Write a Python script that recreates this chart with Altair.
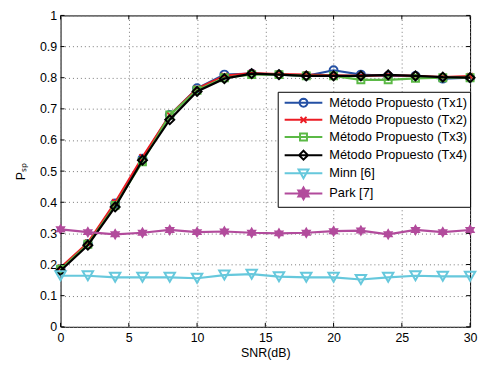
import math
import altair as alt
import pandas as pd

# ---------------- data ----------------
snr = [0, 2, 4, 6, 8, 10, 12, 14, 16, 18, 20, 22, 24, 26, 28, 30]
tx1 = [0.185, 0.266, 0.396, 0.540, 0.680, 0.766, 0.810, 0.813, 0.810, 0.806, 0.824, 0.810, 0.806, 0.806, 0.797, 0.800]
tx2 = [0.190, 0.270, 0.400, 0.545, 0.680, 0.765, 0.806, 0.815, 0.812, 0.810, 0.808, 0.806, 0.808, 0.806, 0.802, 0.805]
tx3 = [0.185, 0.265, 0.390, 0.530, 0.680, 0.760, 0.800, 0.810, 0.810, 0.806, 0.806, 0.793, 0.793, 0.798, 0.800, 0.800]
tx4 = [0.180, 0.262, 0.385, 0.535, 0.665, 0.756, 0.797, 0.813, 0.810, 0.806, 0.806, 0.806, 0.809, 0.806, 0.802, 0.800]
minn = [0.164, 0.164, 0.159, 0.159, 0.159, 0.156, 0.166, 0.169, 0.161, 0.159, 0.159, 0.152, 0.159, 0.164, 0.162, 0.162]
park = [0.313, 0.304, 0.297, 0.302, 0.311, 0.304, 0.306, 0.302, 0.300, 0.302, 0.307, 0.309, 0.297, 0.311, 0.304, 0.311]

series_names = [
    "Método Propuesto (Tx1)",
    "Método Propuesto (Tx2)",
    "Método Propuesto (Tx3)",
    "Método Propuesto (Tx4)",
    "Minn [6]",
    "Park [7]",
]
series_values = [tx1, tx2, tx3, tx4, minn, park]
colors = ["#2450a4", "#ec1c24", "#5bb946", "#000000", "#66c8dc", "#b24b9c"]
legend_fills = ["transparent", "transparent", "transparent", "transparent", "transparent", "#b24b9c"]

x_ticks = [0, 5, 10, 15, 20, 25, 30]
y_ticks = [0, 0.1, 0.2, 0.3, 0.4, 0.5, 0.6, 0.7, 0.8, 0.9, 1.0]

# ---------------- styling ----------------
W, H = 413, 314
FONT = "Liberation Sans"
FS = 12.5

rows = []
for name, vals in zip(series_names, series_values):
    for s, v in zip(snr, vals):
        rows.append({"snr": s, "value": v, "series": name})
df = pd.DataFrame(rows)

HEX = "M0,-1L0.866,0.5L-0.866,0.5ZM0,1L-0.866,-0.5L0.866,-0.5Z"
XMARK = "M-1,-1L1,1M-1,1L1,-1"
plot_markers = [
    ("circle", 64, False),
    (XMARK, 36, False),
    ("square", 49, False),
    ("diamond", 81, False),
    ("triangle-down", 110, False),
    (HEX, 144, True),
]


def f(v):
    return f"{v:.3f}"


def poly(pts):
    return "M" + "L".join(f"{f(x)},{f(y)}" for x, y in pts) + "Z"


U = 7.0  # legend symbol unit in px (sqrt(196)/2)
L = 19.0 / U
line_part = f"M{f(-L)},0L{f(L)},0"
rc = 4.0 / U
circ = poly([(rc * math.cos(2 * math.pi * k / 16), rc * math.sin(2 * math.pi * k / 16)) for k in range(16)])
rx = 3.0 / U
xm = f"M{f(-rx)},{f(-rx)}L{f(rx)},{f(rx)}M{f(-rx)},{f(rx)}L{f(rx)},{f(-rx)}"
rs = 3.5 / U
sq = poly([(-rs, -rs), (rs, -rs), (rs, rs), (-rs, rs)])
rd = 4.5 / U
dia = poly([(0, -rd), (rd, 0), (0, rd), (-rd, 0)])
rt = 5.0 / U
tri = poly([(-rt, -0.75 * rt), (rt, -0.75 * rt), (0, rt)])
rh = 6.0 / U
hexg = poly([(0, -rh), (0.866 * rh, 0.5 * rh), (-0.866 * rh, 0.5 * rh)]) + poly(
    [(0, rh), (-0.866 * rh, -0.5 * rh), (0.866 * rh, -0.5 * rh)])
legend_paths = [line_part + m for m in [circ, xm, sq, dia, tri, hexg]]

x_scale = alt.Scale(domain=[0, 30], nice=False, zero=False)
y_scale = alt.Scale(domain=[0, 1], nice=False)

x_enc = alt.X(
    "snr:Q",
    scale=x_scale,
    axis=alt.Axis(values=x_ticks, title="SNR(dB)", labelPadding=5, titlePadding=2, labelFlush=False),
)
y_enc = alt.Y(
    "value:Q",
    scale=y_scale,
    axis=alt.Axis(values=y_ticks, format=".1~f", title="Pₛₚ", labelPadding=4, titlePadding=12,
                  labelFlush=False),
)

layers = []
for name, col, (shape, size, filled) in zip(series_names, colors, plot_markers):
    base = alt.Chart(df).transform_filter(alt.datum.series == name)
    layers.append(base.mark_line(strokeWidth=2.2, color=col).encode(x=x_enc, y=y_enc))
    layers.append(
        base.mark_point(shape=shape, size=size, filled=filled, strokeWidth=2, opacity=1, color=col).encode(
            x=x_enc, y=y_enc
        )
    )

# inward ticks on all four sides
xt = pd.DataFrame({"snr": x_ticks})
yt = pd.DataFrame({"value": y_ticks})
layers.append(alt.Chart(xt).mark_rule(color="black", strokeWidth=1).encode(
    x=x_enc, y=alt.value(H), y2=alt.value(H - 4)))
layers.append(alt.Chart(xt).mark_rule(color="black", strokeWidth=1).encode(
    x=x_enc, y=alt.value(0), y2=alt.value(4)))
layers.append(alt.Chart(yt).mark_rule(color="black", strokeWidth=1).encode(
    y=y_enc, x=alt.value(0), x2=alt.value(4)))
layers.append(alt.Chart(yt).mark_rule(color="black", strokeWidth=1).encode(
    y=y_enc, x=alt.value(W - 4), x2=alt.value(W)))

legend = alt.Legend(
    title=None,
    orient="none",
    legendX=219,
    legendY=77,
    padding=3,
    strokeColor="black",
    fillColor="white",
    symbolSize=196,
    symbolStrokeWidth=2,
    symbolOffset=15,
    symbolOpacity=1,
    labelOffset=18,
    labelFont=FONT,
    labelFontSize=12.9,
    labelColor="black",
    labelLimit=400,
    rowPadding=1.3,
)

legend_layer = alt.Chart(df).mark_point(strokeWidth=2, opacity=0).encode(
    x=x_enc,
    y=y_enc,
    stroke=alt.Stroke("series:N", scale=alt.Scale(domain=series_names, range=colors), legend=legend),
    fill=alt.Fill("series:N", scale=alt.Scale(domain=series_names, range=legend_fills), legend=legend),
    shape=alt.Shape("series:N", scale=alt.Scale(domain=series_names, range=legend_paths), legend=legend),
)
layers.append(legend_layer)

chart = (
    alt.layer(*layers)
    .properties(
        width=W,
        height=H,
        padding={"left": 53, "top": 6, "right": 10, "bottom": 34},
        autosize=alt.AutoSizeParams(type="none"),
    )
    .configure_view(stroke="black", strokeWidth=1)
    .configure_axis(
        domain=False,
        ticks=False,
        grid=True,
        gridColor="#777777",
        gridDash=[1, 3],
        gridWidth=1,
        labelFont=FONT,
        labelFontSize=FS,
        labelColor="black",
        titleFont=FONT,
        titleFontSize=FS,
        titleFontWeight="normal",
        titleColor="black",
    )
)

chart.save("out.html", embed_options={"renderer": "svg", "actions": False})
